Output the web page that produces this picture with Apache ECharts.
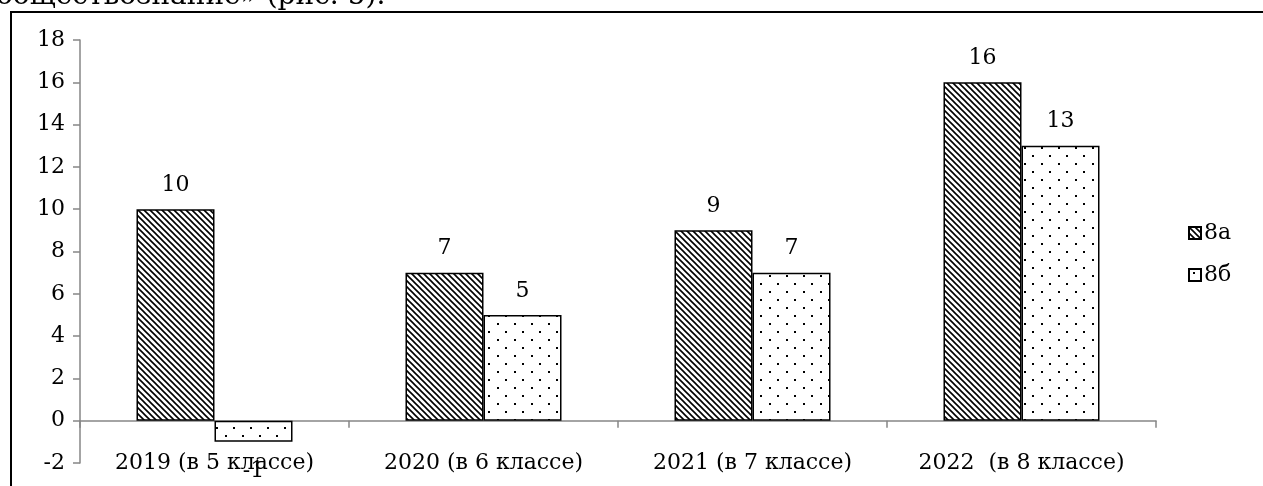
<!DOCTYPE html>
<html>
<head>
<meta charset="utf-8">
<script src="https://cdn.jsdelivr.net/npm/echarts@6/dist/echarts.min.js"></script>
<style>
  html, body { margin: 0; padding: 0; background: #fff; }
  #chart { width: 1263px; height: 486px; }
</style>
</head>
<body>
<div id="chart"></div>
<script>
// данные диаграммы
var categories = ["2019 (в 5 классе)", "2020 (в 6 классе)", "2021 (в 7 классе)", "2022  (в 8 классе)"];
var class8a = [10, 7, 9, 16];
var class8b = [-1, 5, 7, 13];
var seriesNames = ["8а", "8б"];

var font = "DejaVu Serif";
var fs = 22;

// штриховка "\\\"
function hatchPattern() {
  var c = document.createElement("canvas");
  c.width = 6;
  c.height = 6;
  var ctx = c.getContext("2d");
  ctx.fillStyle = "#fff";
  ctx.fillRect(0, 0, 6, 6);
  ctx.strokeStyle = "#000";
  ctx.lineWidth = 1.6;
  ctx.beginPath();
  ctx.moveTo(-1, -1); ctx.lineTo(7, 7);
  ctx.moveTo(-4, 2); ctx.lineTo(4, 10);
  ctx.moveTo(2, -4); ctx.lineTo(10, 4);
  ctx.stroke();
  return c;
}

// редкие точки
function dotPattern() {
  var c = document.createElement("canvas");
  c.width = 17;
  c.height = 16;
  var ctx = c.getContext("2d");
  ctx.fillStyle = "#fff";
  ctx.fillRect(0, 0, 17, 16);
  ctx.fillStyle = "#000";
  ctx.fillRect(4, 3, 2, 2);
  ctx.fillRect(12, 11, 2, 2);
  return c;
}

var chart = echarts.init(document.getElementById("chart"));

function makeData(arr) {
  return arr.map(function (v) {
    if (v < 0) {
      return { value: v, label: { position: "bottom", distance: 18 } };
    }
    return v;
  });
}

var labelStyle = {
  show: true,
  position: "top",
  distance: 13,
  color: "#000",
  fontFamily: font,
  fontSize: fs
};

var option = {
  animation: false,
  textStyle: { fontFamily: font },
  graphic: [
    {
      type: "text",
      left: -4,
      top: -17,
      style: {
        text: "обществознание» (рис. 5).",
        font: "28px 'DejaVu Serif'",
        fill: "#000"
      }
    },
    {
      type: "rect",
      shape: { x: 11, y: 12, width: 1300, height: 520 },
      style: { fill: null, stroke: "#000", lineWidth: 2 },
      z: -1
    }
  ],
  grid: {
    left: 80,
    right: 107,
    top: 40,
    bottom: 23,
    containLabel: false,
    outerBoundsMode: "none"
  },
  legend: {
    orient: "vertical",
    left: 1183,
    top: 217,
    itemWidth: 12,
    itemHeight: 12,
    itemGap: 20,
    icon: "rect",
    data: seriesNames,
    textStyle: { fontFamily: font, fontSize: fs, color: "#000", padding: [0, 0, 0, -2] }
  },
  xAxis: {
    type: "category",
    data: categories,
    axisLine: { onZero: true, lineStyle: { color: "#868686", width: 1.5 } },
    axisTick: { show: true, length: 7, lineStyle: { color: "#868686", width: 1.5 } },
    axisLabel: { color: "#000", fontFamily: font, fontSize: fs, margin: -11, interval: 0 },
    splitLine: { show: false }
  },
  yAxis: {
    type: "value",
    min: -2,
    max: 18,
    interval: 2,
    axisLine: { show: true, lineStyle: { color: "#868686", width: 1.5 } },
    axisTick: { show: true, length: 7, lineStyle: { color: "#868686", width: 1.5 } },
    axisLabel: { color: "#000", fontFamily: font, fontSize: fs, margin: 15 },
    splitLine: { show: false }
  },
  series: [
    {
      name: seriesNames[0],
      type: "bar",
      data: makeData(class8a),
      barGap: "0%",
      barCategoryGap: "42%",
      itemStyle: {
        color: { image: hatchPattern(), repeat: "repeat" },
        borderColor: "#000",
        borderWidth: 1.5
      },
      label: labelStyle
    },
    {
      name: seriesNames[1],
      type: "bar",
      data: makeData(class8b),
      barGap: "0%",
      barCategoryGap: "42%",
      itemStyle: {
        color: { image: dotPattern(), repeat: "repeat" },
        borderColor: "#000",
        borderWidth: 1.5
      },
      label: labelStyle
    }
  ]
};

chart.setOption(option);
window.addEventListener("resize", function () {
  chart.resize();
});
</script>
</body>
</html>
